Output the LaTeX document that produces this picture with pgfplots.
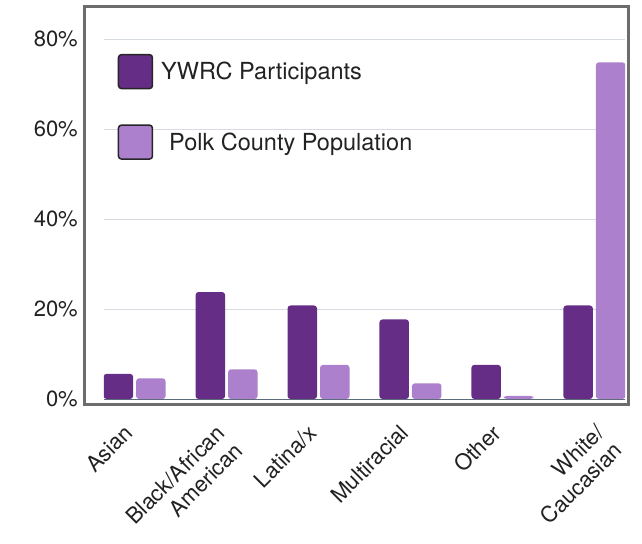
\documentclass[border=0pt]{standalone}
\usepackage{pgfplots}
\pgfplotsset{compat=1.18}
\usepackage{fontspec}
\setmainfont{TeX Gyre Heros}

\definecolor{ywrc}{RGB}{101,45,134}
\definecolor{polk}{RGB}{172,128,204}
\definecolor{gridc}{RGB}{214,220,226}
\definecolor{basec}{RGB}{92,108,122}
\definecolor{framec}{RGB}{108,108,108}
\definecolor{txt}{RGB}{34,34,34}

\begin{document}
\begin{tikzpicture}
\begin{axis}[
    width=521pt, height=392pt, scale only axis,
    xmin=-0.333, xmax=5.333,
    ymin=0, ymax=87.2,
    axis line style={draw=none},
    major tick length=0pt,
    ybar=3pt, bar width=29.5pt,
    ytick={0,20,40,60,80},
    yticklabels={0\%,20\%,40\%,60\%,80\%},
    yticklabel style={anchor=east, inner sep=0pt, xshift=-26pt, text=txt},
    ymajorgrids, major grid style={gridc, line width=1pt},
    xtick={0,1,2,3,4},
    xticklabels={Asian, Black/African\\American, Latina/x, Multiracial, Other},
    extra x ticks={5.13},
    extra x tick labels={White/\\Caucasian},
    xticklabel style={rotate=45, anchor=north east, align=right, inner sep=0pt,
        yshift=-8.6pt, xshift=-25.4pt, text=txt},
    font=\fontsize{22}{25}\selectfont,
    legend style={draw=none, fill=none, inner sep=0pt,
        at={(axis description cs:0.026,0.881)}, anchor=north west,
        legend cell align=left, row sep=35pt,
        font=\fontsize{23.5}{26}\selectfont, text=txt},
    legend image code/.code={
        \draw[#1, draw=black!85, line width=1.5pt] (0pt,-17pt) rectangle (34pt,17pt);
    },
]
\addplot[fill=ywrc, draw=none, rounded corners=3pt] coordinates {
    (0,5.6) (1,23.8) (2,20.8) (3,17.7) (4,7.6) (5,20.8)
};
\addlegendentry{\hspace{6pt}YWRC Participants}
\addplot[fill=polk, draw=none, rounded corners=3pt] coordinates {
    (0,4.6) (1,6.6) (2,7.6) (3,3.5) (4,0.7) (5,74.9)
};
\addlegendentry{\hspace{14pt}Polk County Population}
\draw[basec, line width=1pt] (axis cs:-0.333,0) -- (axis cs:5.333,0);
\end{axis}
\draw[framec, line width=3pt]
    ([xshift=-19.5pt, yshift=-6pt]current axis.south west) rectangle
    ([xshift=3pt]current axis.north east);
\path ([xshift=-104pt, yshift=-128pt]current axis.south west) rectangle
    ([xshift=17pt, yshift=7pt]current axis.north east);
\end{tikzpicture}
\end{document}
